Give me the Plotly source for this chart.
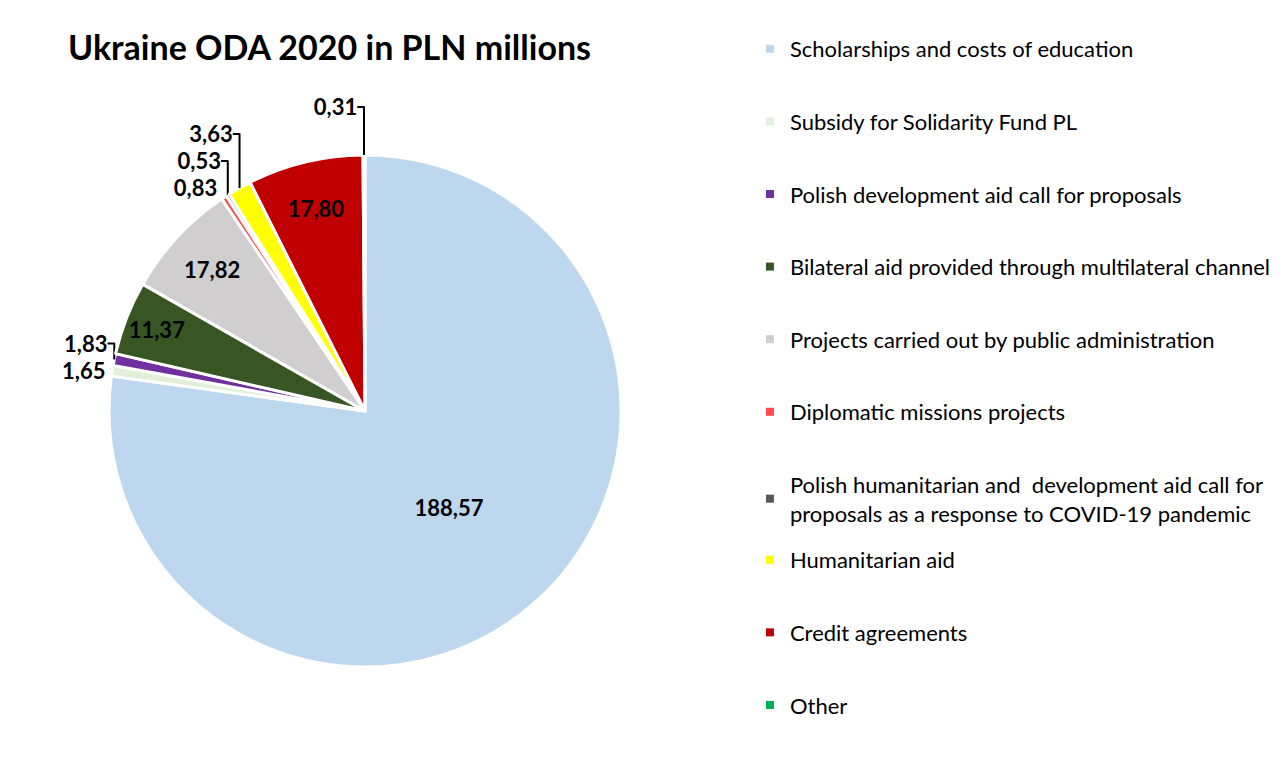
import plotly.graph_objects as go

# ODA to Ukraine in 2020, PLN millions
categories = [
    "Scholarships and costs of education",
    "Subsidy for Solidarity Fund PL",
    "Polish development aid call for proposals",
    "Bilateral aid provided through multilateral channel",
    "Projects carried out by public administration",
    "Diplomatic missions projects",
    "Polish humanitarian and  development aid call for<br>proposals as a response to COVID-19 pandemic",
    "Humanitarian aid",
    "Credit agreements",
    "Other",
]
values = [188.57, 1.65, 1.83, 11.37, 17.82, 0.83, 0.53, 3.63, 17.80, 0.31]
colors = ["#BDD7EE", "#E2EFDA", "#7030A0", "#375623", "#D0CECE",
          "#FF4B4B", "#595959", "#FFFF00", "#C00000", "#00B050"]
text_pos = ["inside", "outside", "outside", "inside", "inside",
            "outside", "outside", "outside", "inside", "outside"]

FONT = "Lato"
W, H = 1279, 754  # page adds an 8px body margin

fig = go.Figure()

fig.add_trace(go.Pie(
    labels=categories,
    values=values,
    sort=False,
    direction="clockwise",
    rotation=0,
    marker=dict(colors=colors, line=dict(color="white", width=3)),
    texttemplate="%{value:.2f}",
    textposition=text_pos,
    insidetextorientation="horizontal",
    textfont=dict(family=FONT, size=22, color="black", weight="bold"),
    domain=dict(x=[0.0790, 0.4793], y=[0.1260, 0.8050]),
    showlegend=False,
    hoverinfo="label+value",
))

# legend entries: first 7 in one legend, last 3 in a second one so the
# two-line entry doesn't push the rest down
for i, (name, col) in enumerate(zip(categories, colors)):
    fig.add_trace(go.Scatter(
        x=[None], y=[None], mode="markers", name=name,
        legendgroup=f"g{i}",
        legend="legend" if i < 7 else "legend2",
        marker=dict(symbol="square", size=8, color=col),
    ))

leg_common = dict(x=0.5801, xanchor="left", yanchor="top",
                  traceorder="grouped", tracegroupgap=41,
                  font=dict(family=FONT, size=22, color="black"),
                  bgcolor="rgba(0,0,0,0)")

fig.update_layout(
    width=W, height=H,
    margin=dict(l=0, r=0, t=0, b=0),
    paper_bgcolor="white", plot_bgcolor="white",
    separators=", ",
    font=dict(family=FONT, color="black"),
    title=dict(text="<b>Ukraine ODA 2020 in PLN millions</b>",
               x=0.0469, xanchor="left", y=0.947, yanchor="middle",
               font=dict(family=FONT, size=34, color="black")),
    xaxis=dict(visible=False), yaxis=dict(visible=False),
    legend=dict(y=0.9735, **leg_common),
    legend2=dict(y=0.2958, **leg_common),
    shapes=[dict(type="line", xref="paper", yref="paper",
                 x0=0.9984, x1=0.9984, y0=0, y1=1,
                 line=dict(color="#D9D9D9", width=1))],
)

fig.write_html("out.html")
